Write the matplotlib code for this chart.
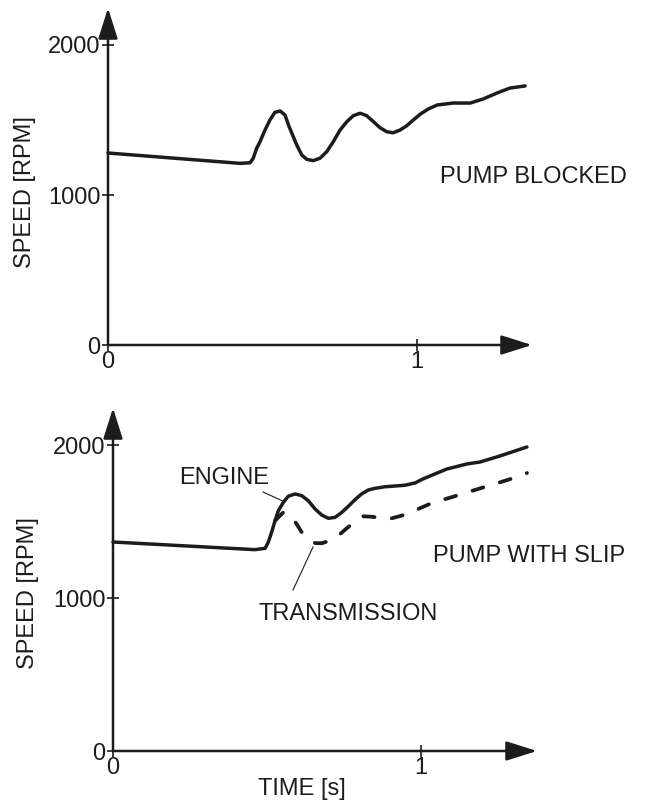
import matplotlib
matplotlib.use("Agg")
import matplotlib.pyplot as plt
from matplotlib.lines import Line2D

plt.rcParams['font.family'] = ['Liberation Sans', 'DejaVu Sans']

# ---- data ----
t_blocked = [0.0, 0.427, 0.460, 0.470, 0.481, 0.492, 0.508, 0.524, 0.540, 0.557,
             0.573, 0.584, 0.595, 0.611, 0.627, 0.643, 0.664, 0.686, 0.708,
             0.729, 0.751, 0.773, 0.794, 0.816, 0.837, 0.859, 0.880, 0.902,
             0.923, 0.945, 0.967, 0.988, 1.010, 1.036, 1.065, 1.117, 1.172,
             1.214, 1.259, 1.301, 1.350]
v_blocked = [1280, 1211, 1215, 1245, 1311, 1355, 1433, 1500, 1551, 1560,
             1533, 1467, 1411, 1333, 1267, 1238, 1229, 1245, 1289,
             1355, 1433, 1489, 1529, 1545, 1529, 1489, 1449, 1422,
             1415, 1433, 1462, 1500, 1538, 1573, 1600, 1613, 1613,
             1640, 1680, 1713, 1727]

t_engine = [0.0, 0.461, 0.494, 0.504, 0.515, 0.526, 0.537, 0.553, 0.569, 0.591,
            0.613, 0.634, 0.656, 0.678, 0.699, 0.721, 0.743, 0.764, 0.786,
            0.807, 0.829, 0.851, 0.883, 0.916, 0.948, 0.981, 1.006, 1.084,
            1.149, 1.192, 1.256, 1.344]
v_engine = [1366, 1316, 1325, 1364, 1429, 1505, 1571, 1625, 1665, 1680,
            1669, 1636, 1582, 1542, 1521, 1527, 1560, 1599, 1643,
            1680, 1706, 1717, 1727, 1732, 1737, 1752, 1778, 1843,
            1876, 1889, 1928, 1987]

t_trans = [0.526, 0.553, 0.575, 0.596, 0.613, 0.634, 0.656, 0.678, 0.705, 0.731,
           0.759, 0.786, 0.813, 0.840, 0.872, 0.905, 0.937, 0.970, 1.036,
           1.101, 1.175, 1.250, 1.321, 1.344]
v_trans = [1505, 1560, 1543, 1484, 1429, 1386, 1359, 1358, 1375, 1407,
           1456, 1499, 1534, 1531, 1523, 1521, 1538, 1564, 1621,
           1660, 1706, 1752, 1797, 1817]

yticks = [0, 1000, 2000]
ytick_labels = ['0', '1000', '2000']
xticks = [0, 1]
xtick_labels = ['0', '1']

W, H = 645, 805
fig = plt.figure(figsize=(W / 100, H / 100), dpi=100)

def frac(x, y):
    return x / W, 1 - y / H

INK = '#1c1c1c'
FS_TICK = 17
FS_TXT = 17


def make_axes(left, right, y0, ytop, px_per_1000, px_per_s):
    ax = fig.add_axes([left / W, (H - y0) / H, (right - left) / W, (y0 - ytop) / H])
    ax.set_xlim(0, (right - left) / px_per_s)
    ax.set_ylim(0, (y0 - ytop) / px_per_1000 * 1000)
    for s in ax.spines.values():
        s.set_visible(False)
    ax.patch.set_alpha(0)
    ax.set_yticks(yticks)
    ax.set_yticklabels(ytick_labels)
    ax.set_xticks(xticks)
    ax.set_xticklabels(xtick_labels)
    ax.tick_params(axis='both', direction='inout', length=9, width=1.2,
                   color=INK, labelsize=FS_TICK, labelcolor=INK, pad=1)
    ax.tick_params(axis='x', pad=0)
    # axis arrows
    arrow = dict(arrowstyle='-|>,head_length=1.9,head_width=0.6', color=INK,
                 lw=1.8, mutation_scale=10, shrinkA=0, shrinkB=0)
    ax.annotate('', xy=(1, 0), xytext=(0, 0), xycoords='axes fraction',
                arrowprops=arrow, annotation_clip=False)
    ax.annotate('', xy=(0, 1), xytext=(0, 0), xycoords='axes fraction',
                arrowprops=arrow, annotation_clip=False)
    return ax


ax1 = make_axes(108, 532, 345, 8, 150, 309)
ax1.plot(t_blocked, v_blocked, color=INK, lw=2.5, solid_capstyle='round',
         solid_joinstyle='round', clip_on=False)

ax2 = make_axes(113, 537, 751, 408, 153, 308)
ax2.plot(t_engine, v_engine, color=INK, lw=2.5, solid_capstyle='round',
         solid_joinstyle='round', clip_on=False)
ax2.plot(t_trans, v_trans, color=INK, lw=2.7, ls=(0, (3.0, 4.6)),
         dash_capstyle='round', solid_joinstyle='round', clip_on=False)

# texts
fig.text(*frac(440, 177), 'PUMP BLOCKED', fontsize=FS_TXT, color=INK,
         ha='left', va='center')
fig.text(*frac(433, 556), 'PUMP WITH SLIP', fontsize=FS_TXT, color=INK,
         ha='left', va='center')
fig.text(*frac(224, 478), 'ENGINE', fontsize=FS_TXT, color=INK,
         ha='center', va='center')
fig.text(*frac(348, 614), 'TRANSMISSION', fontsize=FS_TXT, color=INK,
         ha='center', va='center')
fig.text(*frac(302, 789), 'TIME [s]', fontsize=FS_TXT, color=INK,
         ha='center', va='center')
fig.text(*frac(25, 192), 'SPEED [RPM]', fontsize=FS_TXT, color=INK,
         ha='center', va='center', rotation=90)
fig.text(*frac(28, 593), 'SPEED [RPM]', fontsize=FS_TXT, color=INK,
         ha='center', va='center', rotation=90)

# leader lines
for (xa, ya), (xb, yb) in [((263, 492), (285, 502)), ((293, 590), (313, 547))]:
    xa_, ya_ = frac(xa, ya)
    xb_, yb_ = frac(xb, yb)
    fig.add_artist(Line2D([xa_, xb_], [ya_, yb_], color=INK, lw=0.8))

fig.savefig('out.png', dpi=100)
